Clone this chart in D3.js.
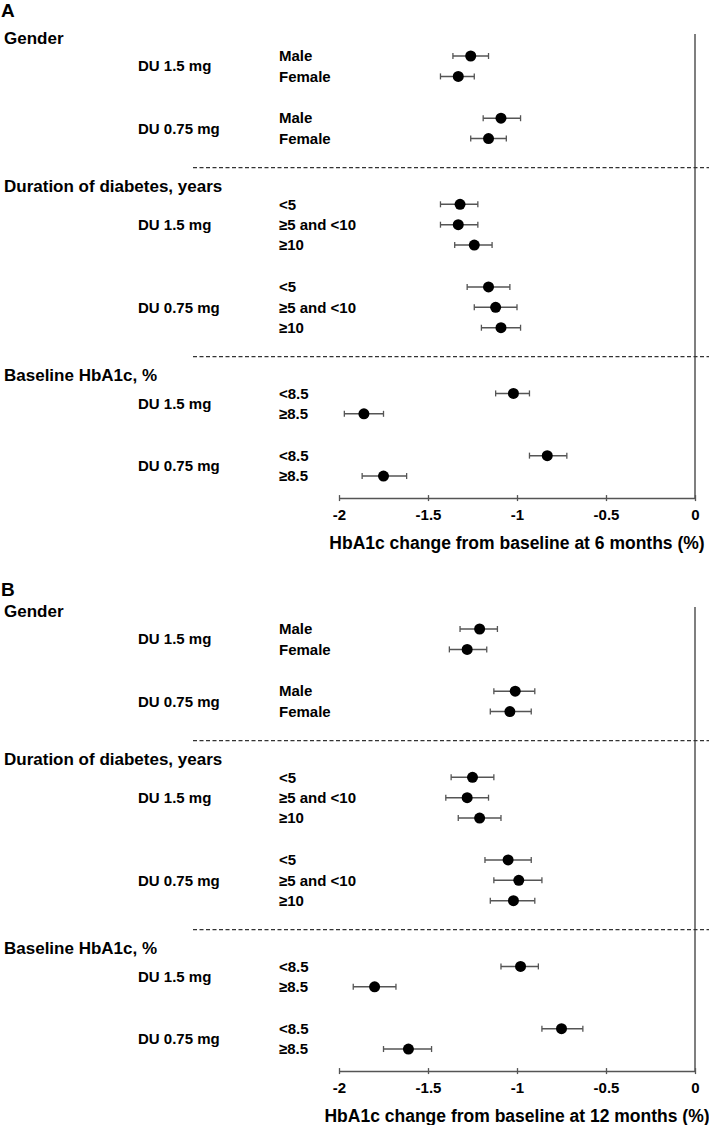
<!DOCTYPE html>
<html>
<head>
<meta charset="utf-8">
<script src="https://cdn.jsdelivr.net/npm/d3@7"></script>
<style>
  html, body { margin: 0; padding: 0; background: #fff; }
  svg { display: block; }
  text { font-family: "Liberation Sans", Arial, sans-serif; font-weight: bold; fill: #000; }
</style>
</head>
<body>
<svg id="chart" width="709" height="1125"></svg>
<script>
// ---------- data ----------
const panels = ["A", "B"];
const axisTitles = [
  "HbA1c change from baseline at 6 months (%)",
  "HbA1c change from baseline at 12 months (%)"
];
const sections = ["Gender", "Duration of diabetes, years", "Baseline HbA1c, %"];
const doses = ["DU 1.5 mg", "DU 0.75 mg"];
const subgroups = [
  ["Male", "Female"],
  ["<5", "\u22655 and <10", "\u226510"],
  ["<8.5", "\u22658.5"]
];
// order: section -> dose -> subgroup
const est6 = [-1.26, -1.33, -1.09, -1.16,
              -1.32, -1.33, -1.24, -1.16, -1.12, -1.09,
              -1.02, -1.86, -0.83, -1.75];
const lo6  = [-1.36, -1.43, -1.19, -1.26,
              -1.43, -1.43, -1.35, -1.28, -1.24, -1.20,
              -1.12, -1.97, -0.93, -1.87];
const hi6  = [-1.16, -1.24, -0.98, -1.06,
              -1.22, -1.22, -1.14, -1.04, -1.00, -0.98,
              -0.93, -1.75, -0.72, -1.62];
const est12 = [-1.21, -1.28, -1.01, -1.04,
               -1.25, -1.28, -1.21, -1.05, -0.99, -1.02,
               -0.98, -1.80, -0.75, -1.61];
const lo12  = [-1.32, -1.38, -1.13, -1.15,
               -1.37, -1.40, -1.33, -1.18, -1.13, -1.15,
               -1.09, -1.92, -0.86, -1.75];
const hi12  = [-1.11, -1.17, -0.90, -0.92,
               -1.13, -1.16, -1.09, -0.92, -0.86, -0.90,
               -0.88, -1.68, -0.63, -1.48];
const tickValues = [-2, -1.5, -1, -0.5, 0];
const tickLabels = ["-2", "-1.5", "-1", "-0.5", "0"];

const series = [
  { est: est6, lo: lo6, hi: hi6 },
  { est: est12, lo: lo12, hi: hi12 }
];

// ---------- layout (row slots) ----------
const rows = [];
const headers = [];
const dividers = [];
const groupLabels = [];
let slot = 0, idx = 0, last = null;
sections.forEach((sec, si) => {
  if (si > 0) {
    dividers.push(last + 1.42);
    slot = last + 3.22;
  }
  headers.push({ text: sec, slot: slot - 0.88 });
  doses.forEach((dose, di) => {
    if (di > 0) slot = last + 2.05;
    const start = slot;
    subgroups[si].forEach((sg) => {
      rows.push({ label: sg, slot: slot, i: idx++ });
      last = slot;
      slot += 1;
    });
    groupLabels.push({ text: dose, slot: (start + last) / 2 });
  });
});
const axisSlot = last + 1.08;

const svg = d3.select("#chart");
const lineColor = "#555";
const letterOffset = [10, 16];

const x = d3.scaleLinear().domain([-2, 0]).range([339, 695]);

panels.forEach((p, pi) => {
  const top = pi * 573;
  const g = svg.append("g").attr("transform", `translate(0,${top})`);
  const y = d3.scaleLinear().domain([0, 1]).range([56, 56 + 20.4]);
  const d = series[pi];

  g.append("text").attr("x", 1).attr("y", letterOffset[pi]).attr("dy", "0.35em")
    .style("font-size", "19px").text(p);

  // vertical zero line
  g.append("line")
    .attr("x1", x(0)).attr("x2", x(0))
    .attr("y1", 34).attr("y2", y(axisSlot))
    .attr("stroke", lineColor).attr("stroke-width", 1.5);

  // dividers
  g.selectAll(".div").data(dividers).join("line")
    .attr("x1", 193).attr("x2", 709)
    .attr("y1", s => y(s)).attr("y2", s => y(s))
    .attr("stroke", "#333").attr("stroke-width", 1.2)
    .attr("stroke-dasharray", "4,2.5");

  // section headers
  g.selectAll(".hdr").data(headers).join("text")
    .attr("x", 4).attr("y", h => y(h.slot)).attr("dy", "0.35em")
    .style("font-size", "17px").text(h => h.text);

  // dose labels
  g.selectAll(".dose").data(groupLabels).join("text")
    .attr("x", 138).attr("y", h => y(h.slot)).attr("dy", "0.35em")
    .style("font-size", "15px").text(h => h.text);

  // subgroup labels
  g.selectAll(".sub").data(rows).join("text")
    .attr("x", 279).attr("y", r => y(r.slot)).attr("dy", "0.35em")
    .style("font-size", "15px").text(r => r.label);

  // error bars
  const eb = g.selectAll(".eb").data(rows).join("g");
  eb.append("line")
    .attr("x1", r => x(d.lo[r.i])).attr("x2", r => x(d.hi[r.i]))
    .attr("y1", r => y(r.slot)).attr("y2", r => y(r.slot))
    .attr("stroke", lineColor).attr("stroke-width", 1.5);
  eb.append("line")
    .attr("x1", r => x(d.lo[r.i])).attr("x2", r => x(d.lo[r.i]))
    .attr("y1", r => y(r.slot) - 3).attr("y2", r => y(r.slot) + 3)
    .attr("stroke", lineColor).attr("stroke-width", 1.3);
  eb.append("line")
    .attr("x1", r => x(d.hi[r.i])).attr("x2", r => x(d.hi[r.i]))
    .attr("y1", r => y(r.slot) - 3).attr("y2", r => y(r.slot) + 3)
    .attr("stroke", lineColor).attr("stroke-width", 1.3);
  eb.append("circle")
    .attr("cx", r => x(d.est[r.i])).attr("cy", r => y(r.slot))
    .attr("r", 5.5).attr("fill", "#000");

  // x axis
  const axis = d3.axisBottom(x).tickValues(tickValues)
    .tickFormat((v, k) => tickLabels[k]).tickSizeInner(3).tickSizeOuter(0).tickPadding(8);
  const ag = g.append("g").attr("transform", `translate(0,${y(axisSlot)})`).call(axis);
  ag.select(".domain").attr("stroke", lineColor).attr("stroke-width", 1.5);
  ag.selectAll(".tick line").attr("stroke", lineColor).attr("stroke-width", 1.3)
    .attr("y1", -3).attr("y2", 3);
  ag.selectAll(".tick text")
    .style("font-family", "\"Liberation Sans\", Arial, sans-serif")
    .style("font-weight", "bold").style("font-size", "15px").attr("fill", "#000");

  g.append("text")
    .attr("x", (x(-2) + x(0)) / 2).attr("y", y(axisSlot) + 45)
    .attr("dy", "0.35em").attr("text-anchor", "middle")
    .style("font-size", "17.5px").text(axisTitles[pi]);
});
</script>
</body>
</html>
